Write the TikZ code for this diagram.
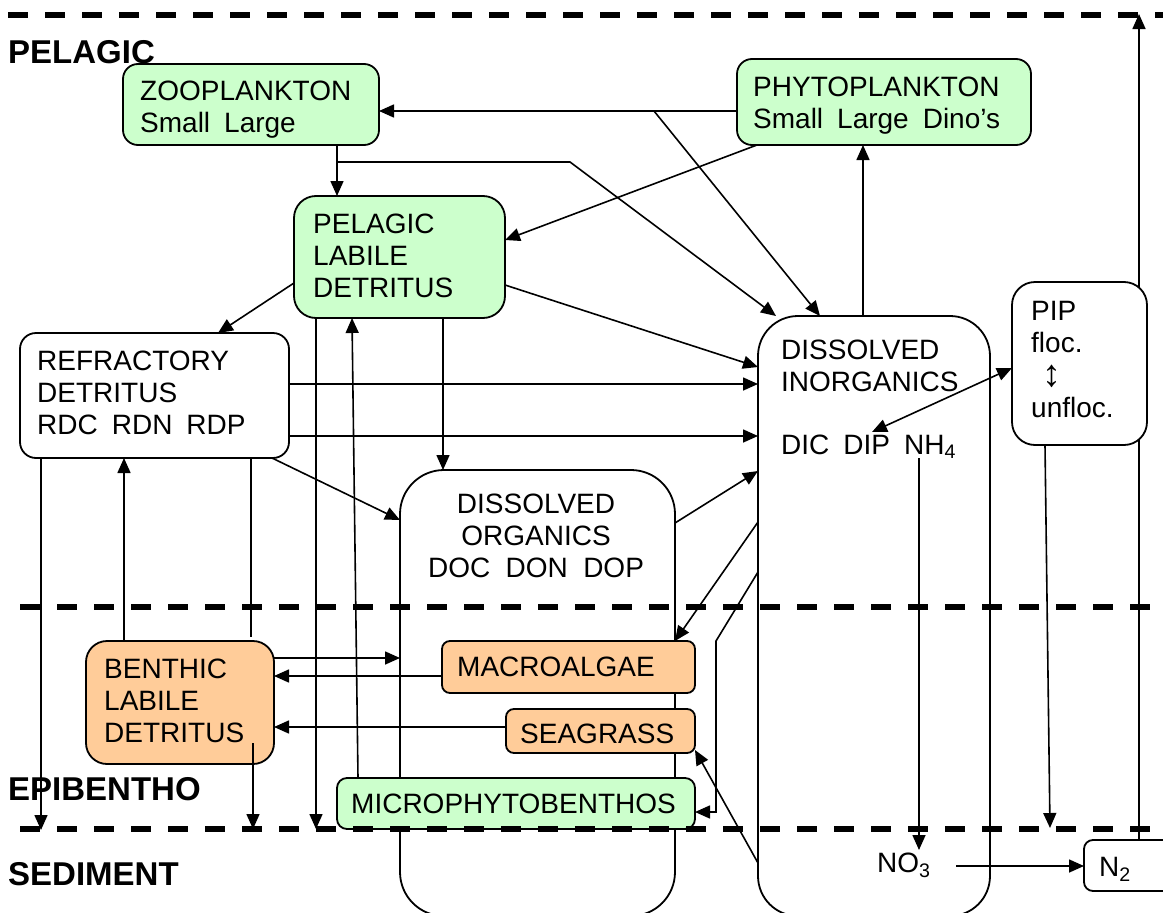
\documentclass[tikz,border=0pt]{standalone}
\usepackage{fontspec}
\setmainfont{Liberation Sans}
\usetikzlibrary{arrows.meta,calc}
\definecolor{grn}{HTML}{CCFFCC}
\definecolor{org}{HTML}{FFCC99}
\pgfdeclarelayer{under}
\pgfsetlayers{under,main}
\begin{document}
\begin{tikzpicture}[x=1pt,y=-1pt,
  box/.style={draw, line width=1.8pt, anchor=north west, inner sep=0pt, outer sep=0pt},
  txt/.style={anchor=base west, inner sep=0pt, font=\fontsize{28}{32}\selectfont},
  ctxt/.style={anchor=base, inner sep=0pt, font=\fontsize{28}{32}\selectfont},
  lbl/.style={anchor=base west, inner sep=0pt, font=\fontsize{33}{36}\selectfont\bfseries},
  ln/.style={line width=1.6pt},
  arr/.style={line width=1.6pt, -{Triangle[length=15pt,width=13pt]}},
  darr/.style={line width=1.6pt, {Triangle[length=15pt,width=13pt]}-{Triangle[length=15pt,width=13pt]}},
  dashline/.style={line width=5.5pt, dash pattern=on 20pt off 17pt}]
\useasboundingbox (0,0) rectangle (1163,913);

% free ends
\coordinate (j1) at (654,111);
\coordinate (j2) at (337,162);
\coordinate (j3) at (570,162);
\coordinate (k1) at (716,641);
\coordinate (k2) at (716,812);
\coordinate (dipend) at (872,432);
\coordinate (nhtop) at (919,458);
\coordinate (no3top) at (919,850);
\coordinate (no3r) at (956,866);
\coordinate (topend) at (1139,14);
\coordinate (pipdown) at (1050,828);
\coordinate (refrdown) at (41,830);
\coordinate (rd2) at (251,637);
\coordinate (bd1) at (253,743);
\coordinate (bd2) at (253,829);
\coordinate (pd) at (316,829);

% large unfilled boxes
\node[box, rounded corners=44pt, minimum width=275pt, minimum height=446pt] (doc) at (400,470) {};
\node[box, rounded corners=40pt, minimum width=232pt, minimum height=600pt] (din) at (758,316) {};

% filled boxes
\node[box, fill=grn, rounded corners=15pt, minimum width=256pt, minimum height=81pt] (zoo) at (123,64) {};
\node[box, fill=grn, rounded corners=15pt, minimum width=294pt, minimum height=86pt] (phyto) at (737,59) {};
\node[box, fill=grn, rounded corners=22pt, minimum width=211pt, minimum height=122pt] (pld) at (294,196) {};
\node[box, fill=white, rounded corners=16pt, minimum width=269pt, minimum height=125pt] (refr) at (20,333) {};
\node[box, fill=white, rounded corners=23pt, minimum width=135pt, minimum height=163pt] (pip) at (1012,282) {};
\node[box, fill=org, rounded corners=21pt, minimum width=188pt, minimum height=123pt] (bld) at (86,641) {};
\node[box, fill=org, rounded corners=8pt, minimum width=253pt, minimum height=52pt] (macro) at (442,641) {};
\node[box, fill=org, rounded corners=8pt, minimum width=189pt, minimum height=44pt] (sea) at (506,709) {};
\node[box, fill=grn, rounded corners=10pt, minimum width=358pt, minimum height=51pt] (mpb) at (337,778) {};
\node[box, fill=white, rounded corners=9pt, minimum width=100pt, minimum height=51pt] (n2) at (1084,840) {};

% connectors hidden behind boxes
\begin{pgfonlayer}{under}
\draw[arr] (n2.north -| 1139,0) -- (topend);
\draw[ln] (refr.south -| 251,0) -- (rd2);
\end{pgfonlayer}

% connectors
\draw[arr] (phyto.west |- 0,111) -- (zoo.east |- 0,111);
\draw[arr] (j1) -- (din.north -| 820,0);
\draw[arr] (zoo.south -| 337,0) -- (pld.north -| 337,0);
\draw[arr] (j2) -- (j3) -- (din.north -| 776,0);
\draw[arr] (din.north -| 863,0) -- (phyto.south -| 863,0);
\draw[arr] (phyto.south -| 757,0) -- (pld.east |- 0,240);
\draw[arr] (pld.west |- 0,283) -- (refr.north -| 218,0);
\draw[arr] (pld.east |- 0,285) -- (din.west |- 0,367);
\draw[arr] (refr.east |- 0,384) -- (din.west |- 0,384);
\draw[arr] (refr.east |- 0,436) -- (din.west |- 0,436);
\draw[arr] (refr.south -| 272,0) -- (doc.west |- 0,520);
\draw[arr] (pld.south -| 443,0) -- (doc.north -| 443,0);
\draw[arr] (doc.east |- 0,523) -- (din.west |- 0,471);
\draw[arr] (din.west |- 0,522) -- (macro.north -| 675,0);
\draw[arr] (din.west |- 0,572) -- (k1) -- (k2) -- (mpb.east |- 0,812);
\draw[arr] (din.west |- 0,863) -- (sea.east |- 0,750);
\draw[darr] (dipend) -- (pip.west |- 0,368);
\draw[arr] (nhtop) -- (no3top);
\draw[arr] (no3r) -- (n2.west |- 0,866);
\draw[arr] (pip.south -| 1045,0) -- (pipdown);
\draw[arr] (refr.south -| 41,0) -- (refrdown);
\draw[arr] (bld.north -| 124,0) -- (refr.south -| 124,0);
\draw[arr] (pld.south -| 316,0) -- (pd);
\draw[arr] (mpb.north -| 358,0) -- (pld.south -| 352,0);
\draw[arr] (bld.east |- 0,658) -- (doc.west |- 0,658);
\draw[arr] (macro.west |- 0,676) -- (bld.east |- 0,676);
\draw[arr] (sea.west |- 0,727) -- (bld.east |- 0,727);
\draw[arr] (bd1) -- (bd2);

% dashed layer boundaries
\draw[dashline] (8,15) -- (1163,15);
\draw[dashline] (20,607) -- (1163,607);
\draw[dashline] (20,829) -- (1163,829);

% texts
\node[lbl] (lpel) at (8,63) {PELAGIC};
\node[lbl] (lepi) at (8,800) {EPIBENTHO};
\node[lbl] (lsed) at (8,885) {SEDIMENT};

\node[txt] (zoo1) at (140,100) {ZOOPLANKTON};
\node[txt] (zoo2) at (140,132) {Small\hspace{0.5em}Large};
\node[txt] (phy1) at (753,96) {PHYTOPLANKTON};
\node[txt] (phy2) at (753,128) {Small\hspace{0.5em}Large\hspace{0.5em}Dino’s};
\node[txt] (pld1) at (313,233) {PELAGIC};
\node[txt] (pld2) at (313,265) {LABILE};
\node[txt] (pld3) at (313,297) {DETRITUS};
\node[txt] (ref1) at (37,370) {REFRACTORY};
\node[txt] (ref2) at (37,402) {DETRITUS};
\node[txt] (ref3) at (37,434) {RDC\hspace{0.5em}RDN\hspace{0.5em}RDP};
\node[ctxt] (doc1) at (536,513) {DISSOLVED};
\node[ctxt] (doc2) at (536,545) {ORGANICS};
\node[ctxt] (doc3) at (536,577) {DOC\hspace{0.55em}DON\hspace{0.55em}DOP};
\node[txt] (din1) at (781,359) {DISSOLVED};
\node[txt] (din2) at (781,391) {INORGANICS};
\node[txt] (din3) at (781,454) {DIC\hspace{0.5em}DIP\hspace{0.5em}NH\textsubscript{4}};
\node[txt] (pip1) at (1031,320) {PIP};
\node[txt] (pip2) at (1031,352) {floc.};
\node[inner sep=0pt, font=\fontsize{38}{40}\selectfont] (pip3) at (1052,376) {↕};
\node[txt] (pip4) at (1031,417) {unfloc.};
\node[txt] (bld1) at (104,678) {BENTHIC};
\node[txt] (bld2) at (104,710) {LABILE};
\node[txt] (bld3) at (104,742) {DETRITUS};
\node[txt] (mac1) at (457,676) {MACROALGAE};
\node[txt] (sea1) at (520,743) {SEAGRASS};
\node[txt] (mpb1) at (351,813) {MICROPHYTOBENTHOS};
\node[txt] (no3) at (877,872) {NO\textsubscript{3}};
\node[txt] (n2t) at (1099,876) {N\textsubscript{2}};
\end{tikzpicture}
\end{document}
